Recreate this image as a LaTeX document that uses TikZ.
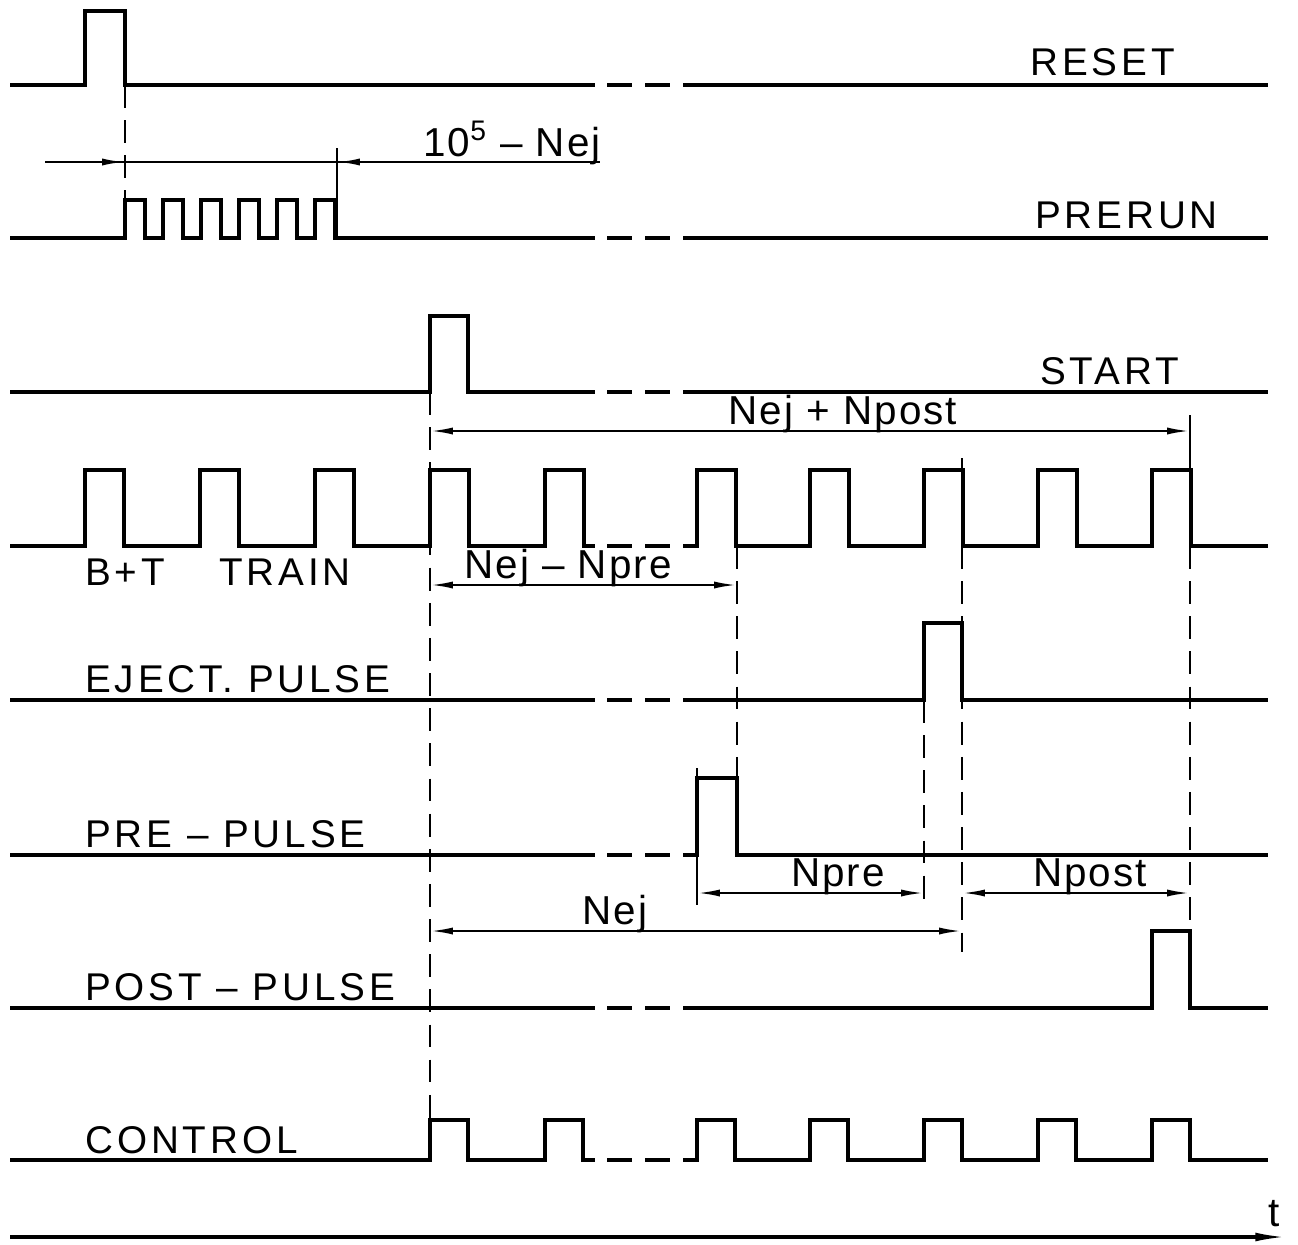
\documentclass[tikz,border=0pt]{standalone}
\usepackage{fontspec}
\newfontfamily\handfont[LetterSpace=10]{Liberation Sans}
\newfontfamily\dimfont[LetterSpace=5]{Liberation Sans}
\usetikzlibrary{arrows.meta}
\tikzset{
  signal/.style={line width=1.8pt,line join=miter},
  guide/.style={line width=1.5pt,dash pattern=on 13pt off 7pt},
  marker/.style={line width=1.3pt},
  dimline/.style={marker,{Latex[length=13pt,width=4pt]}-{Latex[length=13pt,width=4pt]}},
  siglabel/.style={font=\handfont\fontsize{22}{22}\selectfont,anchor=base west,inner sep=0pt},
  dimlabel/.style={font=\dimfont\fontsize{23}{23}\selectfont,anchor=base,inner sep=0pt}
}

\begin{document}
\begin{tikzpicture}[x=0.02cm,y=-0.02cm]
  \useasboundingbox (0,0) rectangle (1298,1244);
  % broken stretch of every trace
  \foreach \y in {85,238,392,546,700,855,1008,1160}
    \draw[signal] (607,\y) -- (632,\y) (645,\y) -- (670,\y);
  % RESET
  \draw[signal] (10,85) -- (85,85) -- (85,11) -- (125,11) -- (125,85) -- (595,85);
  \draw[signal] (683,85) -- (1268,85);
  % PRERUN
  \draw[signal] (10,238) foreach \k in {0,...,5} {-- ({125+38*\k},238) -- ({125+38*\k},200) -- ({145+38*\k},200) -- ({145+38*\k},238)} -- (595,238);
  \draw[signal] (683,238) -- (1268,238);
  % START
  \draw[signal] (10,392) -- (430,392) -- (430,316) -- (468,316) -- (468,392) -- (595,392);
  \draw[signal] (683,392) -- (1268,392);
  % B+T train
  \draw[signal] (10,546) foreach \s in {85,200,315,430,545} {-- (\s,546) -- (\s,470) -- ({\s+39},470) -- ({\s+39},546)} -- (595,546);
  \draw[signal] (683,546) foreach \s in {697,810,924,1038,1152} {-- (\s,546) -- (\s,470) -- ({\s+39},470) -- ({\s+39},546)} -- (1268,546);
  % ejection pulse
  \draw[signal] (10,700) -- (595,700);
  \draw[signal] (683,700) -- (924,700) -- (924,623) -- (962,623) -- (962,700) -- (1268,700);
  % pre-pulse
  \draw[signal] (10,855) -- (595,855);
  \draw[signal] (683,855) -- (697,855) -- (697,778) -- (737,778) -- (737,855) -- (1268,855);
  % post-pulse
  \draw[signal] (10,1008) -- (595,1008);
  \draw[signal] (683,1008) -- (1152,1008) -- (1152,931) -- (1190,931) -- (1190,1008) -- (1268,1008);
  % control
  \draw[signal] (10,1160) foreach \s in {430,545} {-- (\s,1160) -- (\s,1120) -- ({\s+38},1120) -- ({\s+38},1160)} -- (595,1160);
  \draw[signal] (683,1160) foreach \s in {697,810,924,1038,1152} {-- (\s,1160) -- (\s,1120) -- ({\s+38},1120) -- ({\s+38},1160)} -- (1268,1160);
  % time axis
  \draw[signal,-{Latex[length=18pt,width=5pt]}] (10,1237) -- (1287,1237);

  % guide lines
  \draw[guide] (125,85) -- (125,238);
  \draw[guide] (430,392) -- (430,1120);
  \draw[guide] (737,546) -- (737,778);
  \draw[guide] (924,700) -- (924,905);
  \draw[guide] (962,546) -- (962,952);
  \draw[guide] (1190,546) -- (1190,931);
  \draw[marker] (337,148) -- (337,238);
  \draw[marker] (962,458) -- (962,470);
  \draw[marker] (1190,415) -- (1190,470);
  \draw[marker] (697,768) -- (697,778) (697,855) -- (697,905);

  % dimensions
  \draw[marker] (45,162) -- (600,162);
  \draw[marker,-{Latex[length=13pt,width=4pt]}] (80,162) -- (125,162);
  \draw[marker,-{Latex[length=13pt,width=4pt]}] (385,162) -- (337,162);
  \draw[dimline] (430,431) -- (1190,431);
  \draw[dimline] (430,585) -- (737,585);
  \draw[dimline] (697,893) -- (924,893);
  \draw[dimline] (962,893) -- (1190,893);
  \draw[dimline] (430,931) -- (962,931);

  % labels
  \node[siglabel] (reset) at (1030,75) {RESET};
  \node[siglabel] (prerun) at (1035,228) {PRERUN};
  \node[siglabel] (start) at (1040,384) {START};
  \node[siglabel] (train) at (85,585) {B+T\hspace{1.4em}TRAIN};
  \node[siglabel] (eject) at (85,692) {EJECT. PULSE};
  \node[siglabel] (pre) at (85,847) {PRE – PULSE};
  \node[siglabel] (post) at (85,1000) {POST – PULSE};
  \node[siglabel] (control) at (85,1153) {CONTROL};
  \node[dimlabel] (prerunlen) at (512,156) {10\textsuperscript{5} – Nej};
  \node[dimlabel] (ejpost) at (843,424) {Nej + Npost};
  \node[dimlabel] (ejpre) at (568,578) {Nej – Npre};
  \node[dimlabel] (npre) at (838,886) {Npre};
  \node[dimlabel] (npost) at (1090,886) {Npost};
  \node[dimlabel] (nej) at (615,924) {Nej};
  \node[dimlabel] (time) at (1274,1226) {t};
\end{tikzpicture}
\end{document}
